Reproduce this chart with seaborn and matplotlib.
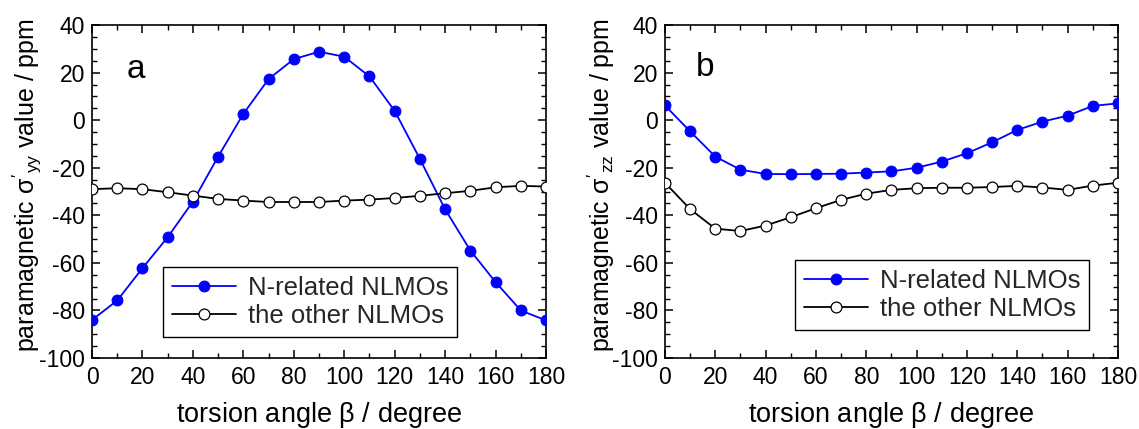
import numpy as np
import pandas as pd
import matplotlib
matplotlib.use("Agg")
import matplotlib.pyplot as plt
import seaborn as sns
from matplotlib.ticker import MultipleLocator

# ---- data ----
angle = [0, 10, 20, 30, 40, 50, 60, 70, 80, 90, 100, 110, 120, 130, 140, 150, 160, 170, 180]
a_nrel = [-84, -75.8, -62.2, -49.2, -34.2, -15.3, 2.7, 17.3, 25.7, 28.8, 26.7, 18.4, 3.9, -16.3,
          -37.5, -54.8, -68.1, -80, -84.2]
a_other = [-29, -28.6, -29, -30.3, -31.7, -33.1, -33.8, -34.4, -34.4, -34.4, -33.8, -33.4, -32.7,
           -31.8, -30.7, -29.7, -28.2, -27.6, -27.9]
b_nrel = [6.2, -4.7, -15.3, -20.8, -22.6, -22.7, -22.6, -22.5, -22.0, -21.5, -20.0, -17.4, -13.9,
          -9.3, -4.1, -0.6, 1.9, 6.0, 7.1]
b_other = [-26.3, -37.4, -45.6, -46.6, -44.3, -40.8, -37.0, -33.5, -30.9, -29.3, -28.6, -28.4,
           -28.4, -28.1, -27.6, -28.3, -29.3, -27.5, -26.3]
series_labels = ["N-related NLMOs", "the other NLMOs"]
panel_letters = ["a", "b"]
ylabels = [r"paramagnetic $\sigma'_{yy}$ value / ppm", r"paramagnetic $\sigma'_{zz}$ value / ppm"]
xlabel = r"torsion angle $\beta$ / degree"

sns.set_theme(style="ticks")
plt.rcParams["font.family"] = ["Liberation Sans", "DejaVu Sans"]
plt.rcParams["mathtext.fontset"] = "custom"
plt.rcParams["mathtext.rm"] = "Liberation Sans"
plt.rcParams["mathtext.it"] = "Liberation Sans"
plt.rcParams["mathtext.bf"] = "Liberation Sans:bold"
plt.rcParams["axes.unicode_minus"] = False

fig = plt.figure(figsize=(11.39, 4.29), dpi=100)
axes = [fig.add_axes([0.0808, 0.1655, 0.3986, 0.776]),
        fig.add_axes([0.5838, 0.1655, 0.3977, 0.776])]

panels = [(a_nrel, a_other), (b_nrel, b_other)]
leg_pos = [(0.156, 0.064), (0.287, 0.085)]
letter_pos = [(0.077, 0.84), (0.068, 0.846)]
ylab_x = [-0.106, -0.106]
blue = "#0000ff"

for i, ax in enumerate(axes):
    nrel, other = panels[i]
    df = pd.DataFrame({"angle": angle, "nrel": nrel, "other": other})
    sns.lineplot(data=df, x="angle", y="nrel", ax=ax, color=blue, lw=1.3,
                 marker="o", markersize=7.8, markerfacecolor=blue, markeredgecolor=blue,
                 label=series_labels[0], zorder=3)
    sns.lineplot(data=df, x="angle", y="other", ax=ax, color="black", lw=1.3,
                 marker="o", markersize=7.8, markerfacecolor="white", markeredgecolor="black",
                 markeredgewidth=0.9, label=series_labels[1], zorder=3)
    ax.set_xlim(0, 180)
    ax.set_ylim(-100, 40)
    ax.xaxis.set_major_locator(MultipleLocator(20))
    ax.xaxis.set_minor_locator(MultipleLocator(10))
    ax.yaxis.set_major_locator(MultipleLocator(20))
    ax.yaxis.set_minor_locator(MultipleLocator(5))
    ax.tick_params(which="both", direction="in", top=True, right=True, color="black",
                   labelsize=16.5, labelcolor="black")
    ax.tick_params(axis="x", pad=6)
    ax.tick_params(axis="y", pad=5)
    ax.tick_params(which="major", length=6, width=1.1)
    ax.tick_params(which="minor", length=3.5, width=1.0)
    for s in ax.spines.values():
        s.set_visible(True)
        s.set_color("black")
        s.set_linewidth(1.2)
    ax.set_xlabel(xlabel, fontsize=19.5, color="black", labelpad=8)
    ax.set_ylabel(ylabels[i], fontsize=18, color="black")
    ax.yaxis.set_label_coords(ylab_x[i], 0.52)
    ax.text(letter_pos[i][0], letter_pos[i][1], panel_letters[i], transform=ax.transAxes,
            fontsize=24, color="black", ha="left", va="baseline")
    leg = ax.legend(loc="lower left", bbox_to_anchor=leg_pos[i], fontsize=18.5, frameon=True,
                    fancybox=False, edgecolor="black", framealpha=1, handlelength=2.5,
                    handletextpad=0.45, labelspacing=0.15, borderpad=0.35, borderaxespad=0)
    leg.get_frame().set_linewidth(1.0)
    ax.set_facecolor("white")

fig.savefig("out.png", dpi=100, facecolor="white")
